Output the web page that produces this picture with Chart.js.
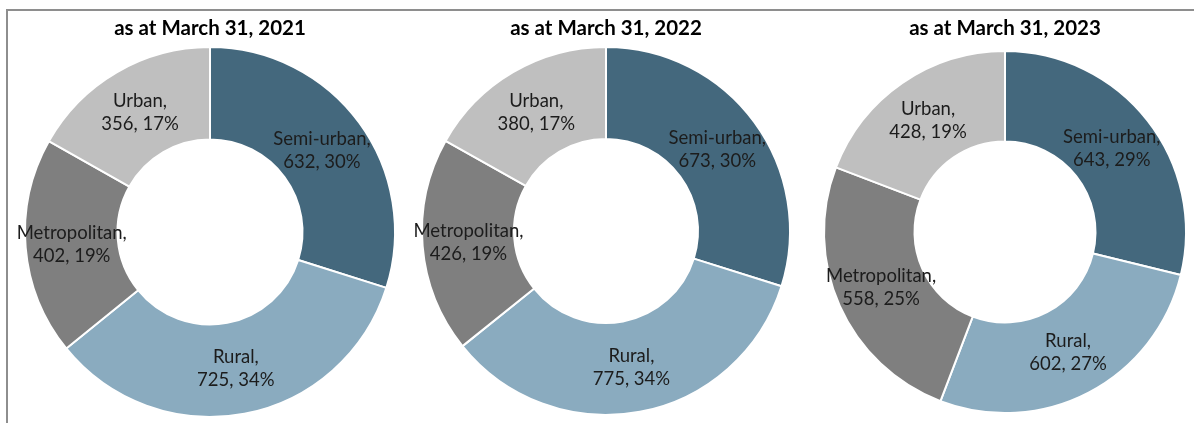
<!DOCTYPE html>
<html>
<head>
<meta charset="utf-8">
<script src="https://cdn.jsdelivr.net/npm/chart.js@4.4.0/dist/chart.umd.min.js"></script>
<style>
  html, body { margin: 0; padding: 0; background: #fff; }
  body { width: 1194px; height: 423px; position: relative; overflow: hidden; }
  #frame { position: absolute; left: 6px; top: 9px; width: 1200px; height: 430px;
           border-top: 2px solid #8e8e8e; border-left: 2px solid #8e8e8e; }
  .box { position: absolute; top: 0; height: 423px; }
</style>
</head>
<body>
<div id="frame"></div>
<div class="box" id="b0" style="left:10px;width:400px"><canvas id="c0"></canvas></div>
<div class="box" id="b1" style="left:406px;width:400px"><canvas id="c1"></canvas></div>
<div class="box" id="b2" style="left:805px;width:400px"><canvas id="c2"></canvas></div>
<script>
const categories = ["Semi-urban", "Rural", "Metropolitan", "Urban"];
const titles = ["as at March 31, 2021", "as at March 31, 2022", "as at March 31, 2023"];
const values2021 = [632, 725, 402, 356];
const values2022 = [673, 775, 426, 380];
const values2023 = [643, 602, 558, 428];
const seriesValues = [values2021, values2022, values2023];
const colors = ["#44687d", "#8aabbf", "#7f7f7f", "#bfbfbf"];

const labelPlugin = {
  id: 'ringLabels',
  afterDatasetsDraw(chart) {
    const ctx = chart.ctx;
    const ds = chart.data.datasets[0];
    const total = ds.data.reduce((a, b) => a + b, 0);
    const meta = chart.getDatasetMeta(0);
    ctx.save();
    ctx.fillStyle = '#1c1c1c';
    ctx.font = '18.5px Lato';
    ctx.textAlign = 'center';
    ctx.textBaseline = 'middle';
    meta.data.forEach((arc, i) => {
      const p = arc.getCenterPoint();
      const pct = Math.round(ds.data[i] / total * 100);
      ctx.fillText(chart.data.labels[i] + ',', p.x, p.y - 11);
      ctx.fillText(ds.data[i] + ', ' + pct + '%', p.x, p.y + 12);
    });
    ctx.restore();
  }
};

// per-chart vertical layout [title bottom padding, layout bottom padding]
const vlayout = [[5.7, 5], [5.7, 7], [9.7, 9]];

seriesValues.forEach((vals, k) => {
  new Chart(document.getElementById('c' + k), {
    type: 'doughnut',
    data: {
      labels: categories,
      datasets: [{
        data: vals,
        backgroundColor: colors,
        borderColor: '#ffffff',
        borderWidth: 2,
        hoverOffset: 0
      }]
    },
    options: {
      responsive: true,
      maintainAspectRatio: false,
      animation: false,
      cutout: '50%',
      layout: { padding: { top: 0, bottom: vlayout[k][1], left: 0, right: 0 } },
      plugins: {
        legend: { display: false },
        tooltip: { enabled: false },
        title: {
          display: true,
          text: titles[k],
          color: '#000',
          font: { family: 'Lato', size: 20.5, weight: 'bold', lineHeight: 1.2 },
          padding: { top: 15.7, bottom: vlayout[k][0] }
        }
      }
    },
    plugins: [labelPlugin]
  });
});
</script>
</body>
</html>
